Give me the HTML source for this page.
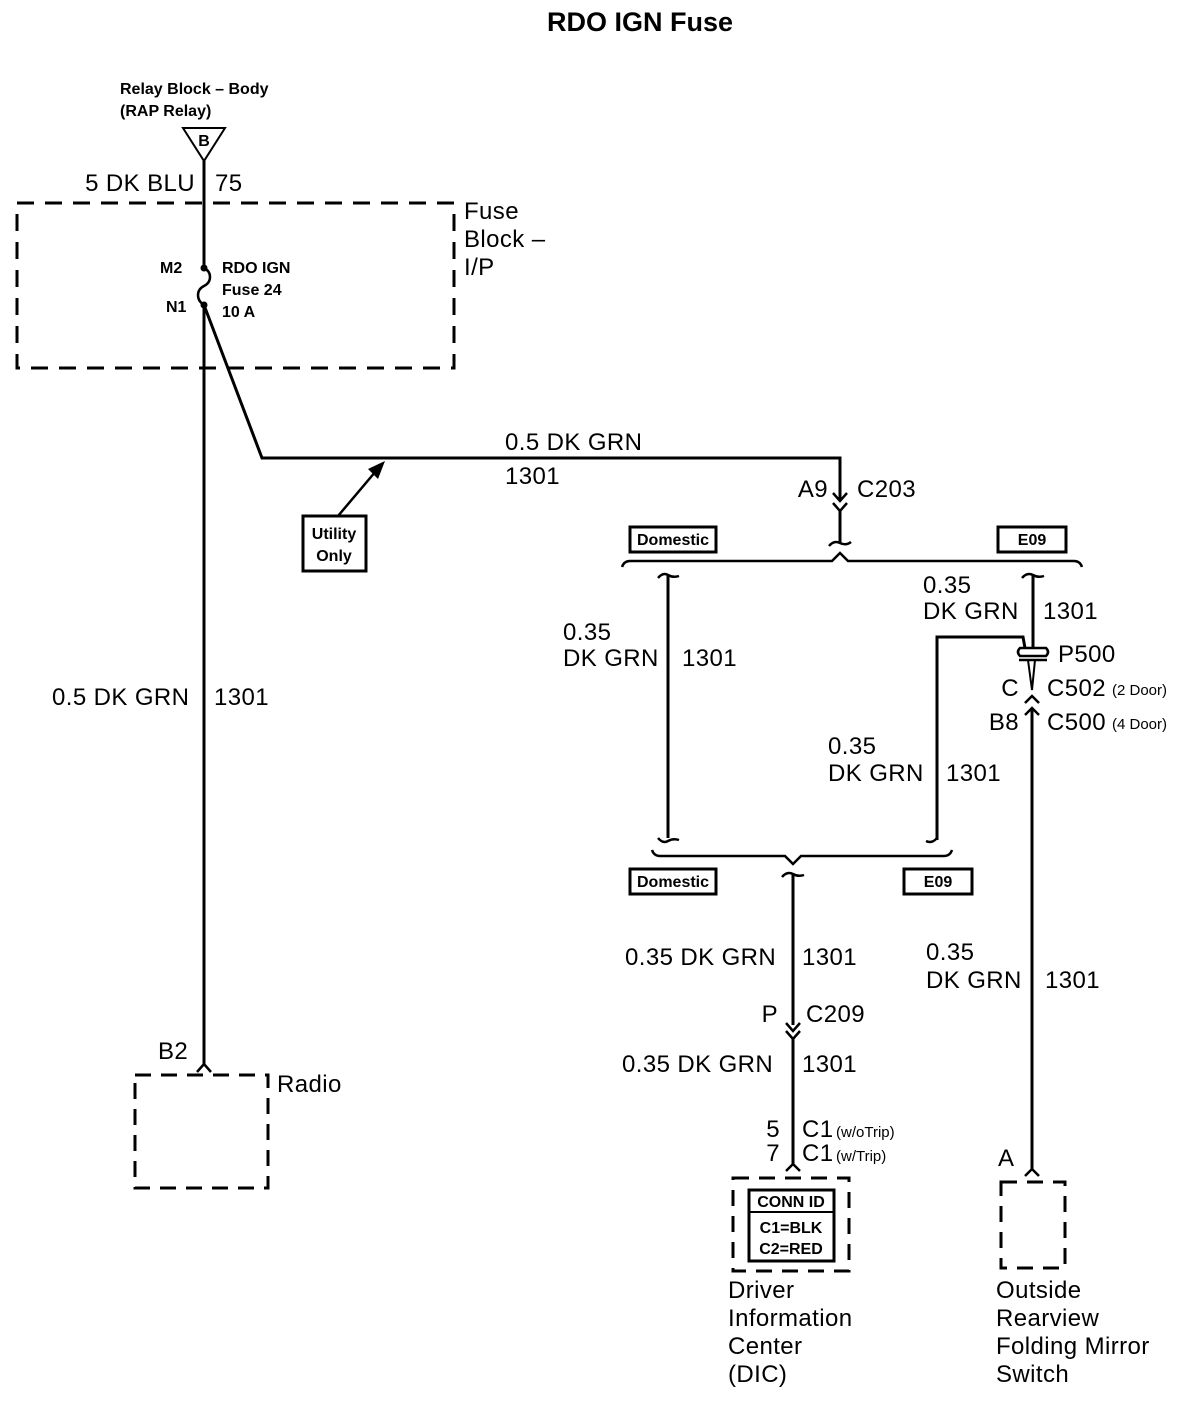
<!DOCTYPE html>
<html><head><meta charset="utf-8"><style>
html,body{margin:0;padding:0;background:#fff;}
svg{display:block;}
text{font-family:"Liberation Sans",Arial,sans-serif;fill:#000;}
.l{font-size:24px;letter-spacing:0.4px;}
.s{font-size:16px;font-weight:bold;}
.t{font-size:15px;}
</style></head><body>
<svg width="1198" height="1408" viewBox="0 0 1198 1408" xmlns="http://www.w3.org/2000/svg">
<text x="640" y="31" text-anchor="middle" font-size="27" font-weight="bold">RDO IGN Fuse</text>
<text x="120" y="94" class="s">Relay Block – Body</text>
<text x="120" y="116" class="s">(RAP Relay)</text>
<polygon points="183,128 225,128 204,161" fill="none" stroke="#000" stroke-width="2"/>
<text x="204" y="146" class="s" text-anchor="middle">B</text>
<text x="195" y="191" class="l" text-anchor="end">5 DK BLU</text>
<text x="215" y="191" class="l">75</text>
<g fill="none" stroke="#000">
<rect x="17" y="203" width="437" height="165" stroke-width="3" stroke-dasharray="17,11"/>
<line x1="204" y1="160" x2="204" y2="268" stroke-width="3"/>
<path d="M204,268 C212,272 212,282 204,286 C196,290 196,300 204,305" stroke-width="2.5"/>
<line x1="204" y1="305" x2="204" y2="1066" stroke-width="3"/>
<path d="M197,1072 L204,1064 L211,1072" stroke-width="2.5"/>
<polyline points="204,305 262,458 840,458 840,500" stroke-width="3"/>
<path d="M833,493 L840,501 L847,493 M833,503 L840,511 L847,503" stroke-width="2.5"/>
<line x1="840" y1="511" x2="840" y2="543" stroke-width="3"/>
<path d="M829,546 Q834,540 840,543 Q846,546 851,542" stroke-width="2.5"/>
<line x1="338" y1="516" x2="376" y2="471" stroke-width="2.5"/>
<rect x="303" y="516" width="63" height="55" stroke-width="3"/>
<path d="M622,567 Q624,561 630,561 L832,561 L840,553 L848,561 L1074,561 Q1080,561 1082,567" stroke-width="2.5"/>
<rect x="630" y="527" width="86" height="25" stroke-width="3"/>
<rect x="998" y="527" width="68" height="25" stroke-width="3"/>
<path d="M658,578 Q663,572 668,575 Q673,578 679,576" stroke-width="2.5"/>
<line x1="668" y1="575" x2="668" y2="838" stroke-width="3"/>
<path d="M658,838 Q663,844 668,841 Q673,838 679,840" stroke-width="2.5"/>
<path d="M1022,578 Q1027,572 1033,575 Q1038,578 1044,576" stroke-width="2.5"/>
<line x1="1033" y1="575" x2="1033" y2="648" stroke-width="3"/>
<polyline points="937,840 937,637 1023,637 1025,648" stroke-width="3"/>
<path d="M937,838 Q932,844 926,841" stroke-width="2.5"/>
<path d="M1020,648 L1046,648 Q1050,652 1046,656 L1020,656 Q1016,652 1020,648 Z" stroke-width="2.5"/>
<path d="M1019,660 L1047,660" stroke-width="2.5"/>
<path d="M1028,660 L1032,690 M1035,660 L1032,690" stroke-width="2"/>
<path d="M1025,703 L1032,696 L1039,703 M1025,715 L1032,708 L1039,715" stroke-width="2.5"/>
<line x1="1032" y1="708" x2="1032" y2="1170" stroke-width="3"/>
<path d="M1025,1176 L1032,1169 L1039,1176" stroke-width="2.5"/>
<path d="M652,850 Q654,856 660,856 L785,856 L793,864 L801,856 L944,856 Q950,856 952,850" stroke-width="2.5"/>
<rect x="630" y="869" width="86" height="25" stroke-width="3"/>
<rect x="904" y="869" width="68" height="25" stroke-width="3"/>
<path d="M782,877 Q787,871 793,874 Q798,877 804,875" stroke-width="2.5"/>
<line x1="793" y1="874" x2="793" y2="1025" stroke-width="3"/>
<path d="M786,1023 L793,1031 L800,1023 M786,1031 L793,1039 L800,1031" stroke-width="2.5"/>
<line x1="793" y1="1039" x2="793" y2="1165" stroke-width="3"/>
<path d="M786,1171 L793,1164 L800,1171" stroke-width="2.5"/>
<rect x="733" y="1178" width="116" height="93" stroke-width="3" stroke-dasharray="16,10"/>
<rect x="749" y="1190" width="85" height="71" stroke-width="3"/>
<line x1="749" y1="1212" x2="834" y2="1212" stroke-width="2"/>
<rect x="1001" y="1182" width="64" height="86" stroke-width="3" stroke-dasharray="16,10"/>
<rect x="135" y="1075" width="133" height="113" stroke-width="3" stroke-dasharray="16,10"/>
</g>
<polygon points="385,461 368,469 378,479" fill="#000"/>
<circle cx="204" cy="268" r="3.5" fill="#000"/>
<circle cx="204" cy="305" r="3.5" fill="#000"/>
<text x="464" y="219" class="l">Fuse</text>
<text x="464" y="247" class="l">Block –</text>
<text x="464" y="275" class="l">I/P</text>
<text x="160" y="273" class="s">M2</text>
<text x="166" y="312" class="s">N1</text>
<text x="222" y="273" class="s">RDO IGN</text>
<text x="222" y="295" class="s">Fuse 24</text>
<text x="222" y="317" class="s">10 A</text>
<text x="505" y="450" class="l">0.5 DK GRN</text>
<text x="505" y="484" class="l">1301</text>
<text x="334" y="539" class="s" text-anchor="middle">Utility</text>
<text x="334" y="561" class="s" text-anchor="middle">Only</text>
<text x="828" y="497" class="l" text-anchor="end">A9</text>
<text x="857" y="497" class="l">C203</text>
<text x="673" y="545" class="s" text-anchor="middle">Domestic</text>
<text x="1032" y="545" class="s" text-anchor="middle">E09</text>
<text x="563" y="640" class="l">0.35</text>
<text x="563" y="666" class="l">DK GRN</text>
<text x="682" y="666" class="l">1301</text>
<text x="923" y="593" class="l">0.35</text>
<text x="923" y="619" class="l">DK GRN</text>
<text x="1043" y="619" class="l">1301</text>
<text x="1058" y="662" class="l">P500</text>
<text x="1019" y="696" class="l" text-anchor="end">C</text>
<text x="1047" y="696" class="l">C502</text>
<text x="1112" y="695" class="t">(2 Door)</text>
<text x="1019" y="730" class="l" text-anchor="end">B8</text>
<text x="1047" y="730" class="l">C500</text>
<text x="1112" y="729" class="t">(4 Door)</text>
<text x="828" y="754" class="l">0.35</text>
<text x="828" y="781" class="l">DK GRN</text>
<text x="946" y="781" class="l">1301</text>
<text x="673" y="887" class="s" text-anchor="middle">Domestic</text>
<text x="938" y="887" class="s" text-anchor="middle">E09</text>
<text x="52" y="705" class="l">0.5 DK GRN</text>
<text x="214" y="705" class="l">1301</text>
<text x="625" y="965" class="l">0.35 DK GRN</text>
<text x="802" y="965" class="l">1301</text>
<text x="926" y="960" class="l">0.35</text>
<text x="926" y="988" class="l">DK GRN</text>
<text x="1045" y="988" class="l">1301</text>
<text x="778" y="1022" class="l" text-anchor="end">P</text>
<text x="806" y="1022" class="l">C209</text>
<text x="622" y="1072" class="l">0.35 DK GRN</text>
<text x="802" y="1072" class="l">1301</text>
<text x="780" y="1137" class="l" text-anchor="end">5</text>
<text x="802" y="1137" class="l">C1</text>
<text x="836" y="1137" class="t">(w/oTrip)</text>
<text x="780" y="1161" class="l" text-anchor="end">7</text>
<text x="802" y="1161" class="l">C1</text>
<text x="836" y="1161" class="t">(w/Trip)</text>
<text x="791" y="1207" class="s" text-anchor="middle">CONN ID</text>
<text x="791" y="1233" class="s" text-anchor="middle">C1=BLK</text>
<text x="791" y="1254" class="s" text-anchor="middle">C2=RED</text>
<text x="728" y="1298" class="l">Driver</text>
<text x="728" y="1326" class="l">Information</text>
<text x="728" y="1354" class="l">Center</text>
<text x="728" y="1382" class="l">(DIC)</text>
<text x="998" y="1166" class="l">A</text>
<text x="996" y="1298" class="l">Outside</text>
<text x="996" y="1326" class="l">Rearview</text>
<text x="996" y="1354" class="l">Folding Mirror</text>
<text x="996" y="1382" class="l">Switch</text>
<text x="158" y="1059" class="l">B2</text>
<text x="277" y="1092" class="l">Radio</text>
</svg>
</body></html>
